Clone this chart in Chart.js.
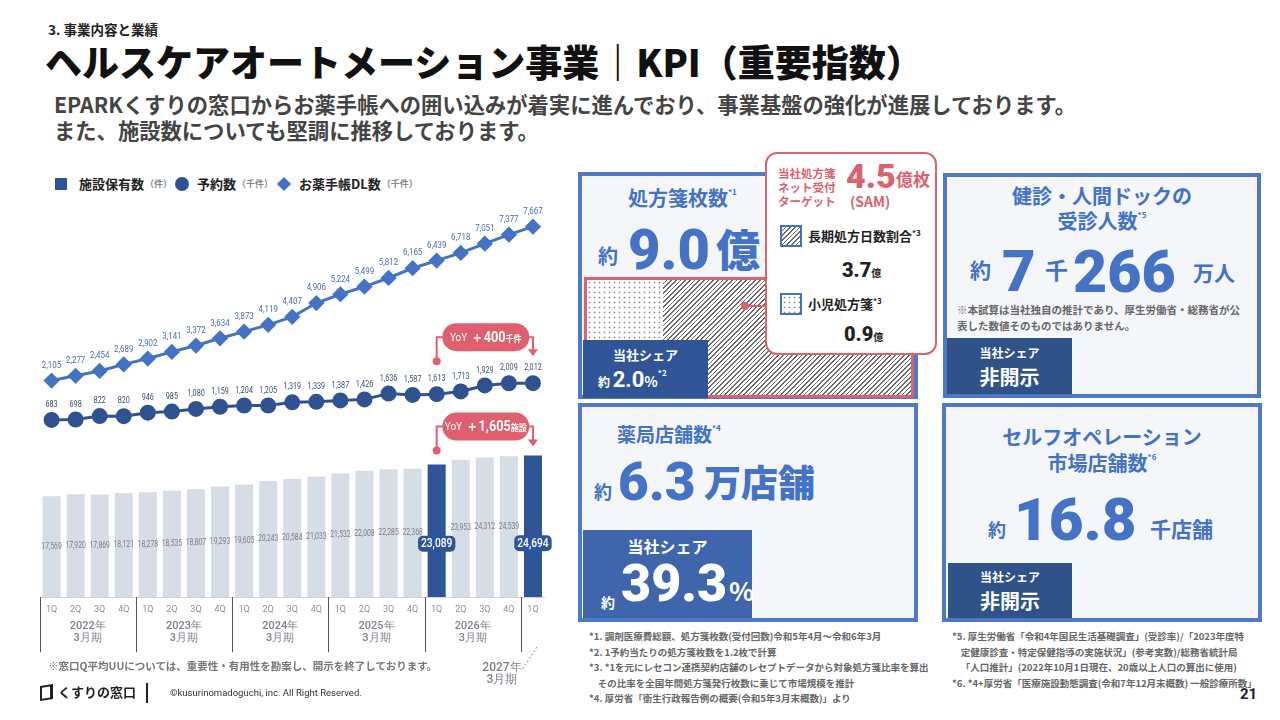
<!DOCTYPE html>
<html lang="ja">
<head>
<meta charset="utf-8">
<script src="https://cdn.jsdelivr.net/npm/chart.js@4.4.1/dist/chart.umd.min.js"></script>
<style>
  body { margin:0; width:1280px; height:720px; background:#fff; position:relative; overflow:hidden;
         font-family:'Noto Sans CJK JP', sans-serif; font-weight:700; color:#222; }
  .a { position:absolute; white-space:nowrap; line-height:1; }
  .num { font-family: Roboto, 'Noto Sans CJK JP', sans-serif; font-weight:900; }
  .box { position:absolute; border:4px solid #4D79C6; background:#F4F6FA; box-sizing:border-box; }
  .blue { color:#4472C4; }
  .share { position:absolute; color:#fff; box-sizing:border-box; }
  .sup { font-size:8px; vertical-align:top; }
  .hatch { background: repeating-linear-gradient(135deg, #fff 0 2.2px, #6a6a6a 2.2px 3.3px); }
  .dots { background-color:#fff; background-image: radial-gradient(#8a8a8a 0.8px, transparent 1.1px); background-size:5px 5px; }
  .fn { position:absolute; font-size:9.5px; color:#666; font-weight:700; line-height:15.5px; white-space:nowrap; }
  #legend { position:absolute; left:55px; top:174px; display:flex; align-items:center; font-size:13px; }
  #legend .u { font-size:9px; color:#888; margin-left:1px; }
</style>
</head>
<body>

<div class="a" style="left:48px;top:23px;font-size:13.5px;">3. 事業内容と業績</div>
<div class="a" style="left:45px;top:43px;font-size:37px;font-weight:900;color:#111;">ヘルスケアオートメーション事業｜KPI（重要指数）</div>
<div class="a" style="left:54px;top:93px;font-size:21.3px;color:#444;">EPARKくすりの窓口からお薬手帳への囲い込みが着実に進んでおり、事業基盤の強化が進展しております。</div>
<div class="a" style="left:54px;top:119px;font-size:21.3px;color:#444;">また、施設数についても堅調に推移しております。</div>

<div id="legend">
  <span style="width:12px;height:12px;background:#2F5597;display:inline-block;margin-right:12px;"></span>
  <span>施設保有数</span><span class="u">（件）</span>
  <span style="width:14px;height:14px;border-radius:50%;background:#2F5290;display:inline-block;margin:0 8px 0 3px;"></span>
  <span>予約数</span><span class="u">（千件）</span>
  <span style="width:10px;height:10px;background:#4472C4;display:inline-block;transform:rotate(45deg);margin:0 10px 0 6px;"></span>
  <span>お薬手帳DL数</span><span class="u">（千件）</span>
</div>

<canvas id="kpiChart" width="540" height="490" style="position:absolute;left:30px;top:200px;"></canvas>

<div class="a" style="left:48px;top:661px;font-size:10.5px;color:#777;">※窓口Q平均UUについては、重要性・有用性を勘案し、開示を終了しております。</div>
<div class="a" style="left:40px;top:685px;width:13px;height:15px;border:2px solid #222;border-right-width:3px;box-sizing:border-box;transform:skewY(-8deg);"></div>
<div class="a" style="left:58px;top:685px;font-size:13px;color:#222;">くすりの窓口</div>
<div class="a" style="left:146px;top:683px;width:2px;height:20px;background:#222;"></div>
<div class="a" style="left:170px;top:688px;font-size:9.5px;color:#333;font-family:Roboto,sans-serif;font-weight:400;">©kusurinomadoguchi, inc. All Right Reserved.</div>

<!-- 処方箋枚数 -->
<div class="box" style="left:578px;top:172px;width:340px;height:227px;"></div>
<div class="a blue" style="left:628px;top:188px;font-size:20px;">処方箋枚数<span class="sup">*1</span></div>
<div class="a blue" style="left:598px;top:246px;font-size:20px;">約</div>
<div class="a blue num" style="left:628px;top:222px;font-size:56px;">9.0</div>
<div class="a blue" style="left:716px;top:226px;font-size:44px;font-weight:900;">億</div>
<div class="a" style="left:584px;top:277px;width:330px;height:121px;border:3px solid #D9636E;box-sizing:border-box;"></div>
<div class="a dots" style="left:587px;top:280px;width:76px;height:115px;"></div>
<div class="a hatch" style="left:663px;top:280px;width:248px;height:115px;"></div>
<div class="share" style="left:583px;top:340px;width:125px;height:58px;background:#2F5597;"></div>
<div class="a" style="left:583px;top:348px;width:125px;text-align:center;font-size:13px;color:#fff;">当社シェア</div>
<div class="a" style="left:598px;top:369px;font-size:12px;color:#fff;">約 <span class="num" style="font-size:22px;font-weight:700;">2.0</span><span style="font-size:14px;">%</span><span class="sup">*2</span></div>

<!-- connector + popup -->
<div class="a" style="left:741px;top:302px;width:8px;height:8px;border-radius:50%;background:#D9636E;"></div>
<div class="a" style="left:748px;top:305px;width:18px;height:2px;background:#D9636E;"></div>
<div class="a" style="left:765px;top:152px;width:172px;height:203px;border:2.5px solid #D9636E;border-radius:12px;background:#fff;box-sizing:border-box;"></div>
<div class="a" style="left:778px;top:166px;font-size:11.5px;color:#D9636E;line-height:14px;white-space:normal;width:70px;">当社処方箋<br>ネット受付<br>ターゲット</div>
<div class="a num" style="left:846px;top:159px;font-size:34px;color:#D9636E;">4.5</div>
<div class="a" style="left:896px;top:170px;font-size:17px;color:#D9636E;">億枚</div>
<div class="a" style="left:850px;top:194px;font-size:14px;color:#D9636E;">(SAM)</div>
<div class="a hatch" style="left:780px;top:225px;width:22px;height:22px;border:2px solid #4472C4;box-sizing:border-box;"></div>
<div class="a" style="left:808px;top:229px;font-size:13px;color:#222;">長期処方日数割合<span class="sup">*3</span></div>
<div class="a" style="left:842px;top:259px;font-size:20px;color:#222;"><span class="num">3.7</span><span style="font-size:10px;">億</span></div>
<div class="a dots" style="left:780px;top:293px;width:22px;height:22px;border:2px solid #4472C4;box-sizing:border-box;"></div>
<div class="a" style="left:808px;top:297px;font-size:13px;color:#222;">小児処方箋<span class="sup">*3</span></div>
<div class="a" style="left:844px;top:323px;font-size:20px;color:#222;"><span class="num">0.9</span><span style="font-size:10px;">億</span></div>

<!-- 健診・人間ドック -->
<div class="box" style="left:943px;top:173px;width:318px;height:225px;"></div>
<div class="a blue" style="left:943px;top:186px;width:318px;text-align:center;font-size:20px;">健診・人間ドックの</div>
<div class="a blue" style="left:943px;top:211px;width:318px;text-align:center;font-size:20px;">受診人数<span class="sup">*5</span></div>
<div class="a blue" style="left:970px;top:259px;font-size:21px;">約</div>
<div class="a blue num" style="left:1002px;top:242px;font-size:58px;">7</div>
<div class="a blue" style="left:1045px;top:258px;font-size:23px;">千</div>
<div class="a blue num" style="left:1073px;top:242px;font-size:59px;">266</div>
<div class="a blue" style="left:1193px;top:262px;font-size:21px;">万人</div>
<div class="a" style="left:957px;top:302px;font-size:10.5px;color:#666;line-height:16px;">※本試算は当社独自の推計であり、厚生労働省・総務省が公<br>表した数値そのものではありません。</div>
<div class="share" style="left:947px;top:338px;width:125px;height:56px;background:#2F5288;"></div>
<div class="a" style="left:947px;top:347px;width:125px;text-align:center;font-size:12px;color:#fff;">当社シェア</div>
<div class="a" style="left:947px;top:367px;width:125px;text-align:center;font-size:20px;color:#fff;">非開示</div>

<!-- 薬局店舗数 -->
<div class="box" style="left:578px;top:403px;width:340px;height:219px;"></div>
<div class="a blue" style="left:617px;top:424px;font-size:19px;">薬局店舗数<span class="sup">*4</span></div>
<div class="a blue" style="left:594px;top:482px;font-size:18px;">約</div>
<div class="a blue num" style="left:618px;top:456px;font-size:53px;">6.3</div>
<div class="a blue" style="left:704px;top:463px;font-size:37px;font-weight:900;">万店舗</div>
<div class="share" style="left:583px;top:530px;width:169px;height:88px;background:#3F66AC;"></div>
<div class="a" style="left:583px;top:538px;width:169px;text-align:center;font-size:16px;color:#fff;">当社シェア</div>
<div class="a" style="left:601px;top:595px;font-size:14px;color:#fff;">約</div>
<div class="a num" style="left:621px;top:558px;font-size:52px;color:#fff;">39.3</div>
<div class="a" style="left:729px;top:577px;font-size:26px;color:#fff;">%</div>

<!-- セルフオペレーション -->
<div class="box" style="left:942px;top:403px;width:320px;height:219px;"></div>
<div class="a blue" style="left:942px;top:427px;width:320px;text-align:center;font-size:20px;">セルフオペレーション</div>
<div class="a blue" style="left:942px;top:453px;width:320px;text-align:center;font-size:20px;">市場店舗数<span class="sup">*6</span></div>
<div class="a blue" style="left:988px;top:520px;font-size:18px;">約</div>
<div class="a blue num" style="left:1014px;top:490px;font-size:60px;">16.8</div>
<div class="a blue" style="left:1150px;top:518px;font-size:21px;">千店舗</div>
<div class="share" style="left:948px;top:563px;width:124px;height:55px;background:#2F5288;"></div>
<div class="a" style="left:948px;top:571px;width:124px;text-align:center;font-size:12px;color:#fff;">当社シェア</div>
<div class="a" style="left:948px;top:591px;width:124px;text-align:center;font-size:20px;color:#fff;">非開示</div>

<!-- footnotes -->
<div class="fn" style="left:589px;top:629px;">*1. 調剤医療費総額、処方箋枚数(受付回数)令和5年4月～令和6年3月<br>*2. 1予約当たりの処方箋枚数を1.2枚で計算<br>*3. *1を元にレセコン連携契約店舗のレセプトデータから対象処方箋比率を算出<br>&nbsp;&nbsp;&nbsp;&nbsp;その比率を全国年間処方箋発行枚数に乗じて市場規模を推計<br>*4. 厚労省「衛生行政報告例の概要(令和5年3月末概数)」より</div>
<div class="fn" style="left:952px;top:629px;">*5. 厚生労働省「令和4年国民生活基礎調査」(受診率)/「2023年度特<br>&nbsp;&nbsp;&nbsp;&nbsp;定健康診査・特定保健指導の実施状況」(参考実数)/総務省統計局<br>&nbsp;&nbsp;&nbsp;&nbsp;「人口推計」(2022年10月1日現在、20歳以上人口の算出に使用)<br>*6. *4+厚労省「医療施設動態調査(令和7年12月末概数) 一般診療所数」</div>
<div class="a" style="left:1240px;top:687px;font-size:15px;color:#222;font-family:Roboto,sans-serif;">21</div>

<script>
// quarter labels and fiscal-year groups (4 quarters each, last group 1 quarter)
const quarters = ['1Q','2Q','3Q','4Q','1Q','2Q','3Q','4Q','1Q','2Q','3Q','4Q','1Q','2Q','3Q','4Q','1Q','2Q','3Q','4Q','1Q'];
const fiscalYears = ['2022年','2023年','2024年','2025年','2026年','2027年'];
const fiscalSuffix = '3月期';

// 施設保有数 (件)
const facilities = [17569,17920,17869,18121,18278,18535,18807,19293,19605,20243,20584,21033,21532,22008,22285,22368,23089,23953,24312,24539,24694];
// 予約数 (千件)
const reservations = [683,698,822,820,946,985,1080,1159,1204,1205,1319,1339,1387,1426,1636,1587,1613,1713,1929,2009,2012];
// お薬手帳DL数 (千件)
const downloads = [2105,2277,2454,2689,2902,3141,3372,3634,3873,4119,4407,4906,5224,5499,5812,6165,6439,6718,7051,7377,7667];

const highlight = [16, 20];
const yoyReservations = ['YoY', '＋400', '千件'];
const yoyFacilities = ['YoY', '＋1,605', '施設'];

const RED = '#E05F6E';
const fmt = v => v.toLocaleString('en-US');

// narrow text: squeeze horizontally so the labels fit the slots like the condensed face in the slide
function narrow(ctx, text, x, y, sx) {
    ctx.save();
    ctx.translate(x, y);
    ctx.scale(sx, 1);
    ctx.fillText(text, 0, 0);
    ctx.restore();
}

function pill(ctx, cx, cy, w, h, parts) {
    ctx.fillStyle = RED;
    ctx.beginPath();
    ctx.roundRect(cx - w / 2, cy - h / 2, w, h, h / 2);
    ctx.fill();
    const fonts = ['400 11px Roboto', '700 14px Roboto', '700 9px "Noto Sans CJK JP"'];
    let total = 4;
    const ws = parts.map((p, i) => { ctx.font = fonts[i]; const m = ctx.measureText(p).width * 0.9; total += m; return m; });
    let xx = cx - total / 2;
    ctx.fillStyle = '#fff';
    ctx.textAlign = 'left';
    ctx.textBaseline = 'middle';
    parts.forEach((p, i) => {
        ctx.font = fonts[i];
        narrow(ctx, p, xx, cy + 1, 0.9);
        xx += ws[i] + (i === 0 ? 4 : 0);
    });
}

function bracket(ctx, xa, ya, yTop, xb, yb, pl, pr) {
    ctx.strokeStyle = RED;
    ctx.fillStyle = RED;
    ctx.lineWidth = 2;
    ctx.beginPath();
    ctx.moveTo(xa, ya); ctx.lineTo(xa, yTop); ctx.lineTo(pl, yTop);
    ctx.stroke();
    ctx.beginPath();
    ctx.moveTo(pr, yTop); ctx.lineTo(xb, yTop); ctx.lineTo(xb, yb - 5);
    ctx.stroke();
    ctx.beginPath();
    ctx.moveTo(xb - 5, yb - 7); ctx.lineTo(xb + 5, yb - 7); ctx.lineTo(xb, yb);
    ctx.fill();
    ctx.beginPath();
    ctx.arc(xa, ya, 4, 0, Math.PI * 2);
    ctx.fill();
}

const annotations = {
    id: 'annotations',
    afterDatasetsDraw(chart) {
        const { ctx, chartArea, scales: { x } } = chart;
        const bars = chart.getDatasetMeta(0).data;
        const res = chart.getDatasetMeta(1).data;
        const dl = chart.getDatasetMeta(2).data;
        ctx.save();
        ctx.textAlign = 'center';
        ctx.textBaseline = 'middle';

        // bar values (highlighted ones sit a little lower, in a dark tag)
        bars.forEach((el, i) => {
            const cy = (el.y + el.base) / 2;
            if (highlight.includes(i)) {
                const ty = cy + (i === highlight[0] ? 13 : 17);
                ctx.font = '500 12.5px Roboto';
                const w = ctx.measureText(fmt(facilities[i])).width * 0.82 + 6;
                ctx.fillStyle = '#2E5597';
                ctx.beginPath();
                ctx.roundRect(el.x - w / 2, ty - 8, w, 16, 5);
                ctx.fill();
                ctx.fillStyle = '#fff';
                narrow(ctx, fmt(facilities[i]), el.x, ty + 0.5, 0.82);
            } else {
                ctx.font = '400 8.5px Roboto';
                ctx.fillStyle = '#7a7f87';
                narrow(ctx, fmt(facilities[i]), el.x, cy, 0.8);
            }
        });

        // line values
        ctx.font = '400 8.5px Roboto';
        ctx.fillStyle = '#3B4F73';
        res.forEach((el, i) => narrow(ctx, fmt(reservations[i]), el.x, el.y - 15, 0.85));
        ctx.font = '400 9px Roboto';
        ctx.fillStyle = '#4A6DAA';
        dl.forEach((el, i) => narrow(ctx, fmt(downloads[i]), el.x, el.y - 15, 0.88));

        // x axis
        const base = chartArea.bottom;
        ctx.strokeStyle = '#cfd3d8';
        ctx.lineWidth = 1;
        ctx.beginPath();
        ctx.moveTo(chartArea.left, base + 0.5); ctx.lineTo(chartArea.right, base + 0.5);
        ctx.stroke();
        ctx.font = '400 9px Roboto';
        ctx.fillStyle = '#8a8f96';
        quarters.forEach((q, i) => ctx.fillText(q, x.getPixelForValue(i), base + 13));

        ctx.lineWidth = 1;
        for (let g = 0; g < fiscalYears.length; g++) {
            const first = g * 4;
            const last = Math.min(first + 3, quarters.length - 1);
            const xl = Math.round(x.getPixelForValue(first - 0.5)) + 0.5;
            ctx.strokeStyle = '#555';
            ctx.beginPath();
            ctx.moveTo(xl, base); ctx.lineTo(xl, base + 55);
            ctx.stroke();
            ctx.fillStyle = '#7d8289';
            if (g < fiscalYears.length - 1) {
                const cx = (x.getPixelForValue(first) + x.getPixelForValue(last)) / 2;
                ctx.font = '500 11px Roboto';
                ctx.fillText(fiscalYears[g], cx, base + 29);
                ctx.fillText(fiscalSuffix, cx, base + 41);
            } else {
                const cx = x.getPixelForValue(first);
                ctx.setLineDash([2, 2]);
                ctx.strokeStyle = '#888';
                ctx.beginPath();
                ctx.moveTo(cx + 4, base + 50); ctx.lineTo(cx - 11, base + 73);
                ctx.stroke();
                ctx.setLineDash([]);
                ctx.font = '500 12px Roboto';
                ctx.fillText(fiscalYears[g], cx - 31, base + 71);
                ctx.fillText(fiscalSuffix, cx - 31, base + 83);
            }
        }

        // YoY callouts
        const a = highlight[0], b = highlight[1];
        let xa = res[a].x, xb = res[b].x, yTop = res[a].y - 57;
        let cx = (xa + xb) / 2 + 1;
        bracket(ctx, xa, res[a].y - 33, yTop, xb, res[b].y - 27, cx - 43, cx + 43);
        pill(ctx, cx, yTop, 87, 28, yoyReservations);

        xa = bars[a].x; xb = bars[b].x; yTop = bars[a].y - 38;
        cx = (xa + xb) / 2 + 1;
        bracket(ctx, xa, bars[a].y - 14, yTop, xb, bars[b].y - 9, cx - 43, cx + 43);
        pill(ctx, cx, yTop, 87, 28, yoyFacilities);

        ctx.restore();
    }
};

new Chart(document.getElementById('kpiChart'), {
    data: {
        labels: quarters,
        datasets: [
            {
                type: 'bar',
                label: '施設保有数',
                data: facilities,
                yAxisID: 'yBar',
                backgroundColor: facilities.map((v, i) => highlight.includes(i) ? '#2E5597' : '#D6DDE5'),
                barPercentage: 0.75,
                categoryPercentage: 1,
                order: 3
            },
            {
                type: 'line',
                label: '予約数',
                data: reservations,
                yAxisID: 'yLine',
                borderColor: '#2F5290',
                backgroundColor: '#2F5290',
                borderWidth: 3,
                pointStyle: 'circle',
                pointRadius: 6.5,
                tension: 0,
                clip: false,
                order: 2
            },
            {
                type: 'line',
                label: 'お薬手帳DL数',
                data: downloads,
                yAxisID: 'yLine',
                borderColor: '#4472C4',
                backgroundColor: '#4472C4',
                borderWidth: 3,
                pointStyle: 'rectRot',
                pointRadius: 6,
                tension: 0,
                clip: false,
                order: 1
            }
        ]
    },
    options: {
        responsive: false,
        animation: false,
        layout: { padding: { left: 8, right: 25, top: 5, bottom: 93 } },
        plugins: { legend: { display: false }, tooltip: { enabled: false } },
        scales: {
            x: { display: false, offset: true },
            yBar: { display: false, min: 0, max: 67586 },
            yLine: { display: false, min: -5714, max: 8286 }
        }
    },
    plugins: [annotations]
});
</script>
</body>
</html>
